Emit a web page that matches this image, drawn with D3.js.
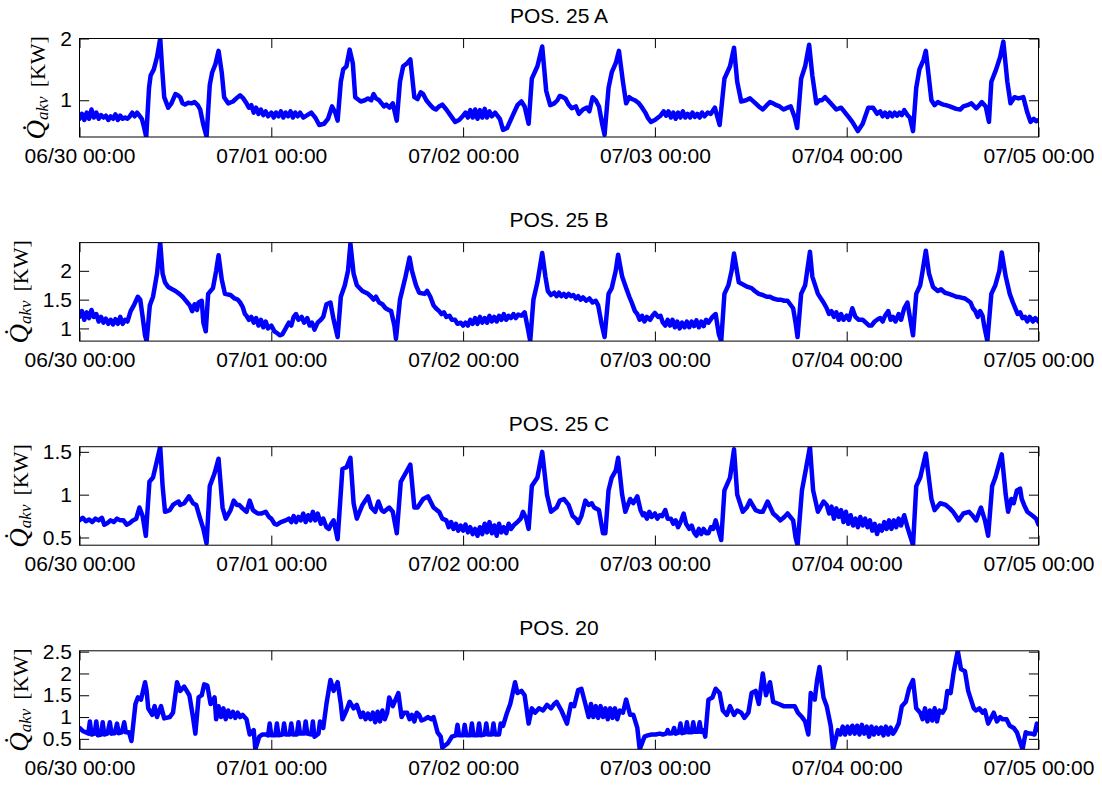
<!DOCTYPE html>
<html>
<head>
<meta charset="utf-8">
<script src="https://cdn.jsdelivr.net/npm/d3@7"></script>
<style>
  html, body { margin: 0; padding: 0; background: #fff; }
  svg { display: block; }
</style>
</head>
<body>
<svg id="chart" width="1102" height="787"></svg>
<script>
// Reactive power Q_akv per position, [hours since 06/30 00:00, kW]
const posTitles = ["POS. 25 A", "POS. 25 B", "POS. 25 C", "POS. 20"];

const q25A = [[0,0.7],[0.3,0.78],[0.6,0.68],[0.9,0.8],[1.2,0.7],[1.5,0.85],[1.8,0.72],[2.1,0.8],[2.4,0.7],[2.7,0.76],[3,0.72],[3.3,0.75],[3.6,0.68],[3.9,0.74],[4.2,0.7],[4.5,0.77],[4.8,0.68],[5.1,0.75],[5.4,0.7],[5.7,0.72],[6,0.7],[6.3,0.74],[6.6,0.8],[6.9,0.74],[7.2,0.8],[7.5,0.75],[7.8,0.7],[8.1,0.55],[8.35,0.405],[8.7,1.2],[8.9,1.4],[9.3,1.5],[9.7,1.7],[10.1,2.0],[10.35,1.5],[10.6,1.05],[11.1,0.88],[11.5,0.95],[12,1.1],[12.3,1.08],[12.6,1.05],[12.9,0.95],[13.2,0.93],[13.6,0.96],[14,0.95],[14.4,0.97],[14.8,0.92],[15.1,0.85],[15.5,0.6],[15.9,0.41],[16.3,1.25],[16.6,1.45],[17,1.58],[17.4,1.8],[17.8,1.45],[18.1,1.05],[18.6,0.95],[19.2,0.98],[19.8,1.05],[20.1,1.08],[20.5,1.03],[20.9,0.95],[21.2,0.88],[21.5,0.92],[21.8,0.8],[22.1,0.88],[22.4,0.78],[22.7,0.85],[23,0.76],[23.3,0.82],[23.6,0.74],[24,0.8],[24.3,0.72],[24.6,0.8],[24.9,0.74],[25.2,0.82],[25.5,0.72],[25.8,0.8],[26.1,0.74],[26.4,0.82],[26.7,0.72],[27,0.8],[27.3,0.74],[27.6,0.8],[28,0.72],[28.5,0.76],[29,0.8],[29.5,0.72],[30,0.6],[30.6,0.62],[31.1,0.7],[31.6,0.9],[32,0.8],[32.3,0.67],[32.7,1.3],[33,1.5],[33.4,1.55],[33.8,1.82],[34.2,1.6],[34.5,1.05],[35.2,0.98],[35.7,1.0],[36.1,1.03],[36.5,1.0],[36.8,1.1],[37.1,1.03],[37.5,1.0],[37.8,0.95],[38.1,0.9],[38.4,0.93],[38.8,0.88],[39.2,0.95],[39.7,0.67],[40.1,1.3],[40.5,1.55],[41,1.6],[41.4,1.66],[41.9,1.05],[42.3,1.02],[42.7,1.13],[43,1.1],[43.4,1.0],[43.9,0.92],[44.3,0.87],[44.6,0.85],[45,0.9],[45.4,0.93],[45.9,0.85],[46.4,0.76],[47,0.65],[47.5,0.68],[48,0.75],[48.3,0.8],[48.6,0.72],[48.9,0.84],[49.2,0.72],[49.5,0.85],[49.8,0.7],[50.1,0.84],[50.4,0.72],[50.7,0.86],[51,0.72],[51.3,0.82],[51.6,0.74],[52,0.8],[52.6,0.7],[53,0.52],[53.5,0.55],[54.2,0.75],[54.8,0.92],[55.3,0.98],[55.7,0.9],[56.2,0.62],[56.6,1.35],[57.3,1.55],[57.9,1.87],[58.4,1.15],[58.9,0.92],[59.4,0.95],[59.8,1.0],[60.1,1.07],[60.5,1.05],[60.8,1.03],[61.2,0.93],[61.6,0.87],[62.1,0.9],[62.5,0.78],[63,0.85],[63.5,0.88],[63.8,0.82],[64.2,1.05],[64.6,1.0],[65,0.9],[65.4,0.62],[65.7,0.44],[66.2,1.2],[66.6,1.45],[67.1,1.6],[67.5,1.8],[68,1.3],[68.4,0.95],[68.8,1.05],[69.1,1.02],[69.5,1.0],[70,0.95],[70.4,0.88],[70.8,0.8],[71.1,0.72],[71.5,0.65],[72,0.68],[72.4,0.72],[72.7,0.75],[73.1,0.82],[73.4,0.75],[73.7,0.82],[74,0.72],[74.3,0.8],[74.6,0.7],[74.9,0.8],[75.2,0.72],[75.5,0.82],[75.8,0.72],[76.1,0.78],[76.4,0.72],[76.7,0.8],[77,0.73],[77.3,0.78],[77.6,0.72],[77.9,0.8],[78.2,0.74],[78.6,0.8],[79,0.78],[79.5,0.88],[80.1,0.6],[80.7,1.35],[81.4,1.55],[81.9,1.85],[82.3,1.3],[82.8,0.98],[83.4,1.0],[83.9,1.03],[84.6,0.95],[85,0.9],[85.5,0.85],[86,0.92],[86.4,0.97],[86.8,0.95],[87.2,0.92],[87.6,0.9],[88.1,0.85],[88.6,0.88],[89,0.9],[89.5,0.72],[89.8,0.55],[90.3,1.35],[90.8,1.55],[91.3,1.9],[91.7,1.4],[92.2,0.95],[92.6,1.0],[92.9,1.0],[93.3,1.05],[94,0.95],[94.7,0.85],[95.3,0.88],[95.8,0.8],[96.3,0.72],[96.7,0.65],[97.4,0.5],[98,0.62],[98.7,0.88],[99.3,0.88],[99.8,0.78],[100.2,0.82],[100.5,0.74],[100.8,0.8],[101.1,0.73],[101.4,0.8],[101.7,0.74],[102,0.8],[102.3,0.75],[102.6,0.8],[102.9,0.76],[103.2,0.84],[103.6,0.76],[103.9,0.72],[104.3,0.5],[104.7,1.2],[105.1,1.5],[105.6,1.65],[105.9,1.8],[106.6,1.0],[107,0.92],[107.4,0.97],[107.7,0.95],[108.1,0.93],[108.4,0.92],[108.9,0.9],[109.3,0.88],[109.7,0.86],[110.2,0.85],[110.6,0.9],[111.1,0.92],[111.6,0.95],[112.2,0.87],[112.6,0.92],[112.9,0.97],[113.4,0.9],[113.8,0.65],[114.1,1.3],[114.7,1.5],[115.2,1.7],[115.6,1.95],[116.1,1.3],[116.5,0.95],[117,1.05],[117.5,1.03],[118.1,1.05],[118.6,0.8],[119,0.65],[119.4,0.7],[119.7,0.66],[120,0.68]];

const q25B = [[0,1.2],[0.3,1.3],[0.6,1.15],[0.9,1.28],[1.2,1.18],[1.5,1.32],[1.8,1.2],[2.1,1.25],[2.4,1.12],[2.7,1.2],[3,1.1],[3.3,1.17],[3.6,1.08],[3.9,1.15],[4.2,1.07],[4.5,1.16],[4.8,1.08],[5.1,1.2],[5.4,1.08],[5.7,1.15],[6,1.12],[6.4,1.3],[6.8,1.4],[7.3,1.55],[7.6,1.5],[7.9,1.2],[8.2,0.88],[8.4,0.78],[8.8,1.4],[9.2,1.55],[9.7,1.95],[10.1,2.49],[10.4,1.95],[10.7,1.8],[11.1,1.72],[11.6,1.68],[12,1.65],[12.5,1.6],[12.9,1.55],[13.2,1.5],[13.5,1.45],[13.8,1.4],[14.1,1.3],[14.4,1.42],[14.7,1.32],[14.9,1.45],[15.3,1.48],[15.5,1.1],[15.8,0.95],[16.1,1.6],[16.7,1.7],[17.1,2.0],[17.4,2.27],[17.8,1.85],[18.2,1.6],[18.9,1.58],[19.4,1.52],[19.8,1.5],[20.1,1.45],[20.4,1.38],[20.7,1.25],[20.9,1.22],[21.2,1.15],[21.5,1.2],[21.8,1.1],[22.1,1.18],[22.4,1.05],[22.7,1.15],[23,1.02],[23.3,1.12],[23.6,1.0],[24,1.05],[24.4,0.95],[24.7,0.92],[25.1,0.88],[25.4,0.9],[25.8,1.0],[26.2,1.1],[26.5,1.05],[26.8,1.2],[27.1,1.25],[27.4,1.15],[27.8,1.2],[28.1,1.1],[28.5,1.18],[28.8,1.05],[29.1,1.1],[29.4,0.98],[29.8,1.1],[30.2,1.15],[30.5,1.2],[30.9,1.42],[31.4,1.45],[31.8,1.15],[32.3,0.85],[32.7,1.55],[33.2,1.75],[33.6,2.0],[33.9,2.47],[34.3,1.95],[34.7,1.75],[35.4,1.65],[36.1,1.6],[36.5,1.55],[36.8,1.5],[37.1,1.55],[37.5,1.45],[37.9,1.42],[38.3,1.35],[38.7,1.32],[39,1.3],[39.4,1.05],[39.6,0.82],[40.1,1.5],[40.8,1.9],[41.3,2.23],[41.6,2.0],[42.1,1.75],[42.5,1.62],[43.2,1.6],[43.5,1.65],[43.9,1.55],[44.3,1.4],[44.6,1.35],[45,1.3],[45.3,1.25],[45.6,1.28],[45.9,1.2],[46.3,1.22],[46.6,1.15],[47,1.15],[47.3,1.08],[47.7,1.1],[48,1.05],[48.3,1.1],[48.6,1.05],[48.9,1.15],[49.2,1.08],[49.5,1.18],[49.8,1.08],[50.1,1.2],[50.4,1.1],[50.7,1.18],[51,1.1],[51.3,1.22],[51.6,1.12],[51.9,1.2],[52.2,1.12],[52.5,1.22],[52.8,1.15],[53.1,1.25],[53.4,1.15],[53.7,1.22],[54,1.18],[54.3,1.25],[54.6,1.18],[54.9,1.24],[55.3,1.22],[55.7,1.28],[56.1,1.0],[56.4,0.78],[56.8,1.5],[57.3,1.8],[57.9,2.31],[58.3,1.9],[58.6,1.65],[59,1.58],[59.4,1.62],[59.7,1.56],[60,1.62],[60.3,1.56],[60.6,1.6],[60.9,1.55],[61.2,1.6],[61.5,1.56],[61.8,1.58],[62.1,1.52],[62.4,1.56],[62.7,1.5],[63,1.54],[63.4,1.48],[63.8,1.52],[64.2,1.45],[64.6,1.48],[64.9,1.4],[65.3,1.1],[65.7,0.85],[66.2,1.6],[66.6,1.7],[67.1,2.0],[67.4,2.28],[67.9,1.9],[68.4,1.7],[68.8,1.55],[69.1,1.45],[69.5,1.3],[69.8,1.25],[70.1,1.15],[70.4,1.22],[70.7,1.12],[71,1.2],[71.4,1.15],[71.7,1.22],[72,1.27],[72.4,1.2],[72.7,1.22],[73,1.1],[73.3,1.05],[73.6,1.15],[73.9,1.05],[74.2,1.15],[74.5,1.02],[74.8,1.12],[75.1,1.0],[75.4,1.1],[75.7,1.02],[76,1.12],[76.3,1.02],[76.6,1.12],[76.9,1.04],[77.2,1.14],[77.5,1.02],[77.8,1.12],[78.1,1.04],[78.4,1.15],[78.7,1.1],[79.2,1.2],[79.6,1.25],[80,0.9],[80.3,0.78],[80.7,1.6],[81.2,1.75],[81.6,2.0],[81.9,2.3],[82.5,1.8],[83.2,1.75],[83.6,1.72],[84.1,1.7],[84.5,1.65],[85,1.6],[85.5,1.58],[86,1.55],[86.4,1.55],[86.8,1.52],[87.3,1.5],[87.7,1.5],[88.2,1.48],[88.6,1.48],[89.3,1.35],[89.6,1.1],[89.85,0.85],[90.3,1.6],[90.8,1.75],[91.4,2.33],[91.7,1.9],[92.4,1.6],[93.1,1.45],[93.5,1.35],[93.8,1.25],[94.1,1.3],[94.4,1.2],[94.7,1.28],[95,1.15],[95.3,1.25],[95.6,1.15],[96,1.22],[96.3,1.15],[96.7,1.35],[97.1,1.2],[97.5,1.15],[98,1.15],[98.4,1.1],[98.8,1.05],[99.1,1.05],[99.5,1.12],[99.8,1.15],[100.2,1.18],[100.5,1.12],[100.8,1.22],[101.2,1.3],[101.5,1.15],[101.8,1.2],[102.1,1.12],[102.5,1.25],[102.8,1.15],[103.2,1.35],[103.6,1.45],[103.9,1.2],[104.3,0.88],[104.7,1.6],[105.2,1.75],[105.5,2.0],[105.9,2.35],[106.3,1.95],[106.8,1.72],[107.4,1.65],[107.8,1.68],[108.3,1.62],[108.8,1.6],[109.2,1.58],[109.7,1.55],[110.2,1.54],[110.8,1.52],[111.5,1.45],[111.8,1.35],[112.1,1.3],[112.4,1.2],[112.7,1.3],[113,1.22],[113.2,1.05],[113.6,0.78],[114.1,1.6],[114.6,1.75],[115.1,2.0],[115.4,2.32],[115.9,1.9],[116.4,1.6],[116.8,1.45],[117.1,1.35],[117.4,1.25],[117.7,1.28],[118,1.18],[118.3,1.2],[118.6,1.12],[118.9,1.2],[119.3,1.12],[119.6,1.18],[120,1.12]];

const q25C = [[0,0.7],[0.4,0.73],[0.8,0.69],[1.2,0.71],[1.6,0.68],[2,0.72],[2.4,0.7],[2.8,0.73],[3.1,0.65],[3.5,0.67],[3.9,0.7],[4.3,0.68],[4.7,0.72],[5.1,0.7],[5.5,0.7],[5.9,0.65],[6.3,0.67],[6.7,0.7],[7.1,0.72],[7.5,0.85],[7.9,0.75],[8.3,0.52],[8.75,1.15],[9.2,1.2],[9.7,1.4],[10.1,1.56],[10.4,1.1],[10.7,0.8],[11.3,0.82],[11.7,0.88],[12,0.9],[12.4,0.92],[12.6,0.88],[13.1,0.9],[13.7,0.98],[14.2,0.9],[14.6,0.88],[15.1,0.72],[15.5,0.6],[15.9,0.43],[16.3,1.1],[16.9,1.25],[17.4,1.42],[17.9,0.85],[18.3,0.72],[18.9,0.82],[19.3,0.93],[19.7,0.88],[20,0.88],[20.4,0.84],[20.9,0.8],[21.3,0.93],[21.7,0.82],[22,0.8],[22.3,0.78],[22.7,0.78],[23.3,0.8],[23.7,0.74],[24,0.72],[24.4,0.66],[24.7,0.65],[25.2,0.68],[25.8,0.7],[26.2,0.72],[26.5,0.68],[26.8,0.75],[27.1,0.68],[27.4,0.74],[27.7,0.7],[28,0.78],[28.3,0.68],[28.6,0.76],[28.9,0.7],[29.2,0.8],[29.5,0.7],[29.8,0.78],[30.2,0.66],[30.5,0.72],[30.9,0.62],[31.2,0.6],[31.5,0.66],[31.8,0.7],[32.3,0.48],[32.9,1.3],[33.4,1.32],[33.9,1.43],[34.3,0.9],[34.7,0.72],[35.4,0.88],[36.1,0.98],[36.5,0.85],[37,0.8],[37.4,0.92],[37.8,0.82],[38.1,0.8],[38.75,0.85],[39.2,0.8],[39.7,0.55],[40.2,1.15],[40.8,1.25],[41.4,1.35],[41.9,0.85],[42.3,0.85],[43,0.95],[43.6,0.98],[44.3,0.85],[44.7,0.82],[45,0.8],[45.4,0.72],[45.9,0.7],[46.2,0.62],[46.5,0.68],[46.8,0.6],[47.1,0.66],[47.4,0.58],[47.7,0.64],[48,0.58],[48.3,0.65],[48.6,0.56],[48.9,0.62],[49.2,0.54],[49.5,0.6],[49.8,0.52],[50.1,0.62],[50.4,0.54],[50.7,0.66],[51,0.56],[51.3,0.68],[51.6,0.55],[51.9,0.64],[52.2,0.52],[52.5,0.66],[52.8,0.56],[53.1,0.62],[53.4,0.55],[53.7,0.66],[54,0.6],[54.4,0.65],[54.8,0.68],[55.2,0.72],[55.5,0.8],[55.9,0.72],[56.2,0.6],[56.6,1.1],[57.3,1.2],[57.9,1.5],[58.5,1.0],[59,0.8],[59.7,0.85],[60.1,0.93],[60.6,0.95],[61.2,0.88],[61.7,0.75],[62.1,0.72],[62.4,0.67],[62.8,0.75],[63.3,0.93],[63.7,0.88],[64.1,0.9],[64.4,0.85],[65,0.82],[65.5,0.55],[65.8,0.55],[66.2,1.05],[66.6,1.2],[67.1,1.28],[67.4,1.43],[67.9,1.0],[68.3,0.8],[68.9,0.95],[69.3,0.9],[69.8,0.98],[70.2,0.82],[70.5,0.76],[70.7,0.78],[71,0.72],[71.3,0.8],[71.6,0.74],[72,0.78],[72.3,0.72],[72.6,0.76],[72.9,0.75],[73.3,0.82],[73.6,0.72],[74,0.72],[74.3,0.66],[74.6,0.7],[74.9,0.62],[75.3,0.7],[75.6,0.78],[75.9,0.66],[76.3,0.6],[76.6,0.64],[76.9,0.56],[77.2,0.52],[77.5,0.6],[77.8,0.54],[78.1,0.6],[78.4,0.55],[78.7,0.55],[79,0.62],[79.3,0.6],[79.6,0.7],[80.3,0.47],[80.7,1.05],[81.4,1.2],[81.9,1.53],[82.3,1.0],[83,0.8],[83.5,0.85],[83.9,0.93],[84.6,0.82],[85.1,0.8],[85.5,0.8],[86.1,0.92],[86.8,0.78],[87.3,0.74],[87.7,0.7],[88.2,0.74],[88.6,0.78],[89.3,0.7],[89.6,0.5],[89.85,0.41],[90.4,1.05],[90.9,1.3],[91.4,1.56],[91.8,1.05],[92.4,0.8],[93.1,0.92],[93.5,0.88],[93.8,0.78],[94.1,0.86],[94.4,0.72],[94.7,0.84],[95,0.74],[95.3,0.82],[95.6,0.68],[95.9,0.8],[96.2,0.66],[96.5,0.76],[96.8,0.64],[97.1,0.72],[97.4,0.62],[97.7,0.74],[98,0.64],[98.3,0.72],[98.6,0.62],[98.9,0.7],[99.2,0.58],[99.5,0.66],[99.8,0.54],[100.1,0.64],[100.4,0.58],[100.7,0.68],[101,0.6],[101.3,0.7],[101.6,0.6],[101.9,0.7],[102.2,0.62],[102.5,0.72],[102.8,0.64],[103.2,0.76],[103.6,0.62],[104.3,0.41],[104.7,1.1],[105.2,1.2],[105.9,1.48],[106.6,0.95],[107,0.82],[107.7,0.9],[108.4,0.88],[108.9,0.84],[109.3,0.8],[109.6,0.76],[110,0.7],[110.6,0.78],[111.3,0.8],[111.8,0.75],[112.2,0.7],[112.8,0.85],[113.3,0.7],[113.7,0.52],[114.2,1.1],[114.6,1.2],[115.4,1.47],[115.9,1.0],[116.2,0.8],[116.6,0.95],[116.9,0.9],[117.3,1.05],[117.7,1.07],[117.9,0.95],[118.2,0.88],[118.6,0.8],[119.3,0.75],[119.7,0.72],[120,0.65]];

const q20 = [[0,0.75],[0.4,0.68],[0.8,0.65],[1.1,0.62],[1.3,0.9],[1.5,0.6],[1.9,0.62],[2.1,0.9],[2.3,0.58],[2.7,0.6],[2.9,0.88],[3.1,0.6],[3.5,0.62],[3.8,0.88],[4,0.62],[4.4,0.63],[4.7,0.85],[4.9,0.63],[5.3,0.65],[5.6,0.88],[5.8,0.65],[6.2,0.65],[6.5,0.45],[7,1.3],[7.3,1.45],[7.7,1.4],[8.2,1.8],[8.4,1.6],[8.6,1.2],[9.1,1.05],[9.4,1.25],[9.7,1.0],[10.2,1.25],[10.6,0.97],[11.3,1.0],[11.7,1.1],[12.2,1.8],[12.6,1.6],[13.1,1.7],[13.75,1.5],[14.2,1.0],[14.5,0.62],[14.9,1.45],[15.3,1.5],[15.6,1.75],[16,1.72],[16.4,1.3],[16.9,1.45],[17.1,0.95],[17.4,1.25],[17.7,1.0],[18,1.2],[18.3,0.95],[18.6,1.15],[18.9,1.0],[19.2,1.12],[19.5,0.98],[19.8,1.1],[20.1,1.0],[20.4,1.05],[20.9,0.95],[21.3,0.6],[21.8,0.7],[22,0.26],[22.5,0.55],[22.9,0.6],[23.3,0.6],[23.6,0.58],[23.8,0.85],[24,0.58],[24.5,0.58],[24.7,0.85],[24.9,0.58],[25.4,0.6],[25.6,0.85],[25.8,0.6],[26.3,0.6],[26.5,0.85],[26.7,0.6],[27.2,0.6],[27.4,0.88],[27.6,0.62],[28.1,0.62],[28.3,0.9],[28.5,0.62],[29,0.6],[29.2,0.9],[29.4,0.55],[29.9,0.62],[30.1,0.9],[30.5,0.75],[30.9,1.3],[31.4,1.85],[31.8,1.6],[32.3,1.8],[32.7,1.3],[32.9,0.95],[33.4,1.15],[33.8,1.35],[34.3,1.2],[34.7,1.28],[35.2,1.0],[35.5,1.1],[35.8,0.95],[36.1,1.08],[36.4,0.95],[36.7,1.1],[37,0.88],[37.3,1.12],[37.6,0.9],[37.9,1.15],[38.2,0.95],[38.5,1.1],[38.75,1.45],[39.2,1.25],[39.9,1.55],[40.3,1.0],[40.6,1.1],[41,1.1],[41.3,0.95],[41.6,1.05],[41.9,0.9],[42.2,1.1],[42.5,1.05],[42.8,0.92],[43.2,0.95],[43.6,1.0],[44,0.95],[44.3,1.0],[44.8,0.65],[45.2,0.55],[45.4,0.3],[46.1,0.4],[46.6,0.55],[47.1,0.58],[47.3,0.82],[47.5,0.58],[48,0.58],[48.2,0.82],[48.4,0.58],[48.9,0.58],[49.1,0.85],[49.3,0.58],[49.8,0.58],[50,0.85],[50.2,0.58],[50.7,0.6],[50.9,0.85],[51.1,0.6],[51.6,0.6],[51.8,0.85],[52,0.6],[52.5,0.6],[52.7,0.85],[53,0.8],[53.5,1.1],[53.9,1.3],[54.5,1.8],[54.8,1.55],[55.3,1.6],[55.7,1.5],[56.2,0.85],[56.6,1.2],[57,1.1],[57.5,1.2],[58,1.15],[58.5,1.28],[59,1.2],[59.4,1.3],[59.7,1.35],[60.3,1.15],[61,0.85],[61.5,1.3],[61.9,1.25],[62.4,1.62],[62.8,1.65],[63.3,1.3],[63.7,1.0],[64,1.3],[64.3,1.0],[64.6,1.25],[64.9,0.98],[65.2,1.25],[65.5,1.0],[65.8,1.2],[66.1,0.95],[66.4,1.2],[66.7,0.98],[67,1.2],[67.3,0.95],[67.6,1.15],[68,1.1],[68.4,1.4],[68.9,1.05],[69.3,1.05],[69.8,0.75],[70.1,0.26],[70.7,0.55],[71.1,0.58],[71.6,0.6],[72.1,0.6],[72.6,0.62],[73,0.6],[73.4,0.62],[73.6,0.7],[73.8,0.62],[74.2,0.63],[74.4,0.75],[74.6,0.62],[75,0.65],[75.2,0.85],[75.4,0.63],[75.8,0.65],[76,0.88],[76.2,0.65],[76.6,0.65],[76.8,0.88],[77,0.66],[77.4,0.66],[77.6,0.88],[77.8,0.66],[78.1,0.7],[78.3,0.55],[78.7,1.4],[79.2,1.45],[79.6,1.65],[80.1,1.55],[80.5,1.15],[81,1.05],[81.4,1.25],[81.9,1.05],[82.3,1.15],[82.8,1.1],[83.2,0.98],[83.7,1.1],[84.1,1.55],[84.6,1.6],[85,1.3],[85.5,2.0],[85.9,1.5],[86.4,1.8],[86.8,1.35],[87.5,1.3],[88.1,1.25],[88.8,1.25],[89.5,1.25],[89.9,1.1],[90.4,1.0],[90.8,0.9],[91.2,0.6],[91.5,1.55],[92,1.4],[92.3,1.85],[92.6,2.15],[93.1,1.45],[93.5,1.25],[94,0.8],[94.3,0.26],[94.9,0.7],[95.2,0.6],[95.5,0.78],[95.8,0.6],[96.1,0.78],[96.4,0.62],[96.7,0.8],[97,0.62],[97.3,0.8],[97.6,0.6],[97.9,0.82],[98.2,0.62],[98.5,0.78],[98.8,0.55],[99.1,0.78],[99.4,0.6],[99.7,0.76],[100,0.62],[100.3,0.76],[100.6,0.58],[100.9,0.78],[101.2,0.6],[101.5,0.76],[101.8,0.62],[102.1,0.7],[102.5,0.85],[102.9,1.25],[103.4,1.35],[103.8,1.65],[104.3,1.85],[104.7,1.2],[105.2,1.1],[105.5,0.95],[105.8,1.2],[106.1,0.9],[106.4,1.15],[106.7,0.92],[107,1.2],[107.3,0.9],[107.6,1.15],[108,1.1],[108.3,1.2],[108.6,1.6],[109,1.55],[109.4,2.05],[109.9,2.52],[110.3,2.1],[110.8,2.05],[111.2,1.6],[111.9,1.2],[112.2,1.15],[112.6,1.2],[113,1.1],[113.3,1.15],[113.7,0.85],[114.4,1.1],[114.8,0.9],[115.2,1.0],[115.5,0.95],[116,0.95],[116.4,0.8],[116.9,0.75],[117.3,0.65],[118,0.26],[118.4,0.65],[118.8,0.62],[119.1,0.62],[119.5,0.6],[119.8,0.85],[120,0.7]];

// y-axis limits and tick values per panel
const yLimits = [[0.405, 2.0], [0.78, 2.49], [0.41, 1.56], [0.26, 2.52]];
const yTickValues = [[1, 2], [1, 1.5, 2], [0.5, 1, 1.5], [0.5, 1, 1.5, 2, 2.5]];
const seriesList = [q25A, q25B, q25C, q20];

const startTime = new Date(2013, 5, 30, 0, 0);
const endTime = new Date(2013, 6, 5, 0, 0);
const toDate = h => new Date(startTime.getTime() + h * 3600000);
const xTickDates = d3.range(0, 6).map(d => d3.timeDay.offset(startTime, d));
const fmtTime = d3.timeFormat("%m/%d %H:%M");

const svg = d3.select("#chart");
svg.append("rect").attr("width", 1102).attr("height", 787).attr("fill", "#fff");

const left = 79.5, right = 1038.5;
const panelH = 98.5, panelStep = 204.1, firstTop = 38.5;
const tickLen = 9.6;
const sansFont = "'Liberation Sans', Arial, Helvetica, sans-serif";
const serifFont = "'Liberation Serif', 'Times New Roman', 'DejaVu Serif', serif";

const x = d3.scaleTime().domain([startTime, endTime]).range([left, right]);

seriesList.forEach((series, i) => {
  const top = firstTop + i * panelStep;
  const bottom = top + panelH;
  const y = d3.scaleLinear().domain(yLimits[i]).range([bottom, top]);
  const g = svg.append("g");

  // clip region = plot box
  const clipId = "clip" + i;
  svg.append("clipPath").attr("id", clipId)
    .append("rect").attr("x", left).attr("y", top).attr("width", right - left).attr("height", bottom - top);

  // title
  g.append("text")
    .attr("x", (left + right) / 2).attr("y", top - 15.8)
    .attr("text-anchor", "middle")
    .attr("font-family", sansFont).attr("font-size", 21)
    .attr("fill", "#000")
    .text(posTitles[i]);

  // data line
  const line = d3.line().x(d => x(toDate(d[0]))).y(d => y(d[1]));
  g.append("path")
    .datum(series)
    .attr("clip-path", `url(#${clipId})`)
    .attr("fill", "none")
    .attr("stroke", "#0000ff")
    .attr("stroke-width", 4.5)
    .attr("stroke-linejoin", "round")
    .attr("stroke-linecap", "round")
    .attr("d", line);

  // axes with inward ticks (box style)
  const axB = g.append("g").attr("transform", `translate(0,${bottom})`)
    .call(d3.axisBottom(x).tickValues(xTickDates).tickFormat(fmtTime)
      .tickSizeInner(-tickLen).tickSizeOuter(0).tickPadding(11));
  const axT = g.append("g").attr("transform", `translate(0,${top})`)
    .call(d3.axisTop(x).tickValues(xTickDates).tickFormat("")
      .tickSizeInner(-tickLen).tickSizeOuter(0));
  const axL = g.append("g").attr("transform", `translate(${left},0)`)
    .call(d3.axisLeft(y).tickValues(yTickValues[i]).tickFormat(d => String(d))
      .tickSizeInner(-tickLen).tickSizeOuter(0).tickPadding(7.5));
  const axR = g.append("g").attr("transform", `translate(${right},0)`)
    .call(d3.axisRight(y).tickValues(yTickValues[i]).tickFormat("")
      .tickSizeInner(-tickLen).tickSizeOuter(0));

  [axB, axT, axL, axR].forEach(a => {
    a.select(".domain").remove();
    a.attr("font-family", sansFont).attr("font-size", 21);
    a.selectAll(".tick line").attr("stroke", "#000").attr("stroke-width", 1);
    a.selectAll(".tick text").attr("fill", "#000");
  });

  // plot box
  g.append("rect")
    .attr("x", left).attr("y", top)
    .attr("width", right - left).attr("height", bottom - top)
    .attr("fill", "none").attr("stroke", "#000").attr("stroke-width", 1);

  // y-axis label placed just left of the widest tick label
  let minTickX = left;
  axL.selectAll(".tick text").each(function () {
    const b = this.getBBox();
    minTickX = Math.min(minTickX, left + b.x);
  });
  const labelX = minTickX - 15;
  const cy = (top + bottom) / 2;
  const lbl = g.append("text")
    .attr("transform", `translate(${labelX},${cy}) rotate(-90)`)
    .attr("text-anchor", "middle")
    .attr("font-family", serifFont).attr("font-size", 22).attr("fill", "#000");
  lbl.append("tspan").attr("font-style", "italic").attr("font-size", 27).text("Q\u0307");
  lbl.append("tspan").attr("font-style", "italic").attr("font-size", 17).attr("dy", 3).text("akv");
  lbl.append("tspan").attr("dy", -3).attr("dx", 9).text("[KW]");
});
</script>
</body>
</html>
